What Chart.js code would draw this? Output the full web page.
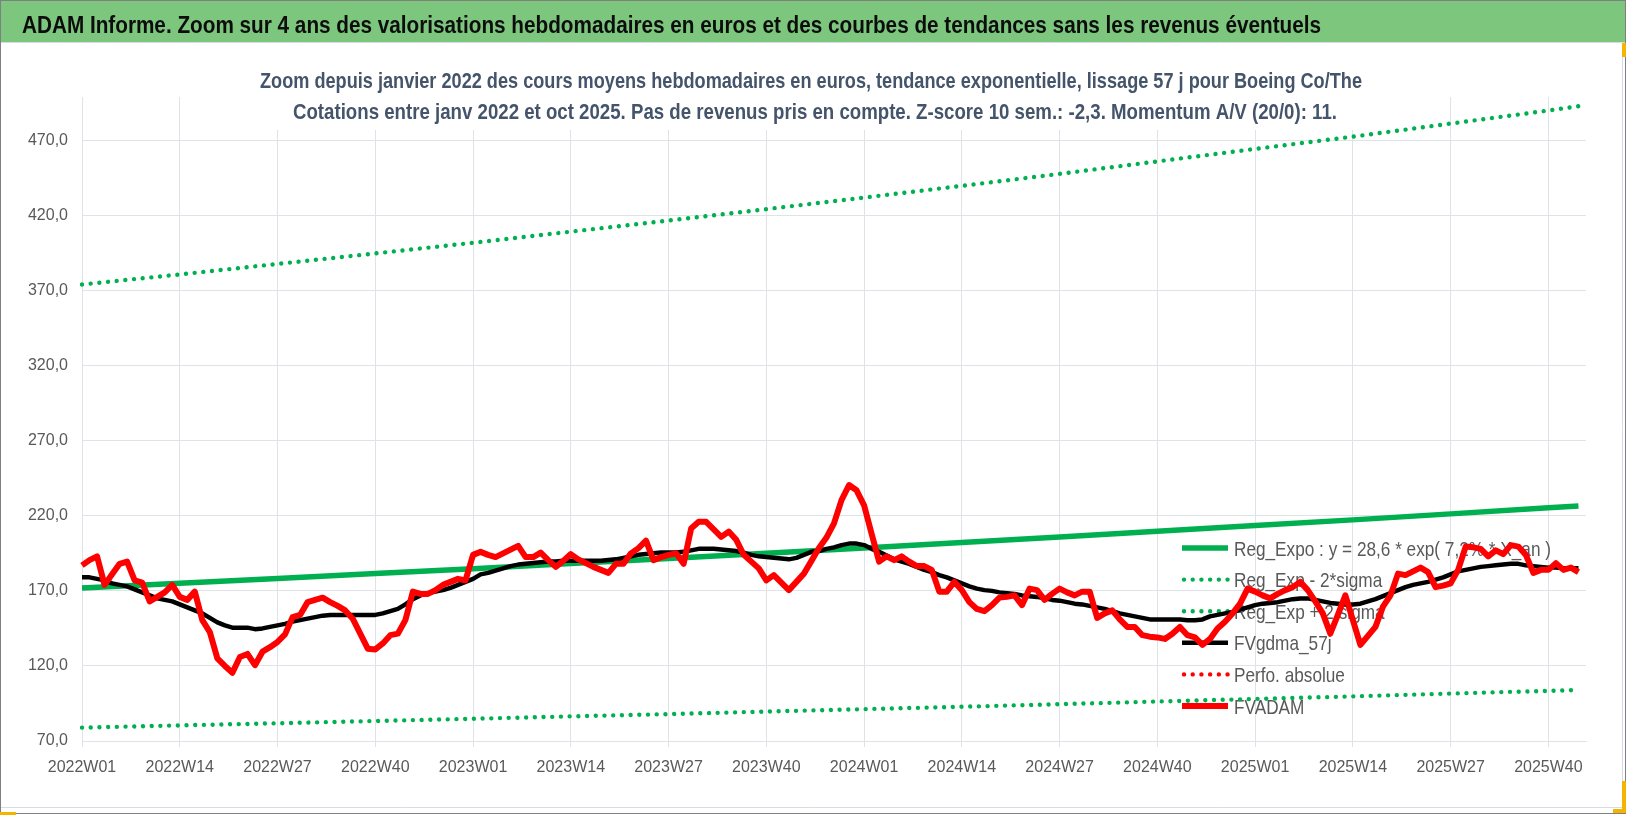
<!DOCTYPE html>
<html lang="fr">
<head>
<meta charset="utf-8">
<title>ADAM Informe - Boeing Co/The</title>
<script src="https://cdn.jsdelivr.net/npm/chart.js@4.4.1/dist/chart.umd.min.js"></script>
<style>
    html, body { margin: 0; padding: 0; background: #ffffff; overflow: hidden; }
    #adamChart { display: block; }
</style>
</head>
<body>
<canvas id="adamChart" width="1630" height="815"></canvas>
<script>
// Week categories 2022W01 .. 2025W45 (last one left empty, like the sheet)
const weekLabels = [];
for (let year = 2022; year <= 2025; year++) {
    const lastWeek = year === 2025 ? 45 : 52;
    for (let w = 1; w <= lastWeek; w++) {
        weekLabels.push(year + 'W' + String(w).padStart(2, '0'));
    }
}

const yTicks = [70, 120, 170, 220, 270, 320, 370, 420, 470];

// Trend lines, read on the picture at each labelled week (+ last week)
const trendWeeks = [0, 13, 26, 39, 52, 65, 78, 91, 104, 117, 130, 143, 156, 169, 182, 195, 199];
const regExpo = [172.0, 175.1, 178.3, 181.5, 184.8, 188.2, 191.6, 195.1, 198.6, 202.2, 205.9, 209.7, 213.5, 217.3, 221.3, 225.3, 226.6];
const regHigh = [374.1, 380.8, 387.8, 394.8, 401.9, 409.3, 416.7, 424.3, 432.0, 439.8, 447.8, 456.1, 464.4, 472.6, 481.3, 490.0, 492.9];
const regLow = [78.9, 80.4, 81.8, 83.3, 84.8, 86.4, 87.9, 89.6, 91.2, 92.8, 94.5, 96.3, 98.0, 99.7, 101.6, 103.4, 104.0];

// Weekly average quotes in euros (FVADAM)
const fvadam = [
    187, 190.5, 193, 174, 181, 188, 189.5, 177, 175.5, 163,
    166, 169, 174, 166, 164, 169.5, 150.5, 142.5, 125, 120,
    115.5, 126, 128, 120.5, 129.5, 132.5, 136, 141, 152.5, 154,
    162.5, 164, 165.5, 162.5, 160, 157, 151.5, 141.5, 131.5, 131,
    135, 140.5, 141.5, 150.5, 169.5, 168, 168, 170.5, 174, 176,
    178, 177, 194, 196, 194, 192.5, 195, 197.5, 200, 192.5,
    192.5, 195.5, 190.5, 186, 190, 194.5, 191, 188.5, 186, 184,
    182, 188, 188, 195, 198.5, 203.5, 190.5, 192.5, 194, 195,
    188, 211.5, 216, 216, 211, 206, 209.5, 204, 194, 189.5,
    185, 177, 180.5, 175.5, 170.5, 176, 181.5, 190, 198.5, 205.5,
    215, 230.5, 240.5, 237, 227, 208, 189.5, 193, 190.5, 193,
    189.5, 186.5, 186.5, 184, 169.5, 169.5, 176, 170.5, 162.5, 158,
    156.5, 160.5, 165.5, 166, 167, 160.5, 171.5, 170.5, 164, 168,
    171.5, 169, 167, 169.5, 169.5, 152, 155, 157, 151, 146,
    146, 140.5, 139.5, 139, 138, 141.5, 146, 140.5, 139, 134,
    138, 145, 149.5, 155, 161.5, 171.5, 169.5, 167, 165, 168,
    170.5, 172.5, 176, 170.5, 163, 155, 141.5, 154, 167, 150.5,
    134, 140, 146, 159.5, 167, 181.5, 180.5, 183, 185.5, 182.5,
    172.5, 173.5, 175, 184, 199.5, 199, 198, 193, 197, 194.5,
    200.5, 199.5, 194, 182, 184, 184, 188.5, 184, 185.5, 182.5
];

// 57 days smoothed average (FVgdma_57j)
const fvgdma = [
    179, 179, 178, 177, 175, 174, 173, 171, 169, 167,
    165, 164, 163, 161, 159, 157, 155, 152, 149, 147,
    145.5, 145.5, 145.5, 144.5, 145, 146, 147, 148, 149.5, 150.5,
    151.5, 152.5, 153.5, 154, 154, 154, 154, 154, 154, 154,
    155, 156.5, 158, 161, 164.5, 167, 168.5, 169.5, 170.5, 172,
    174, 176, 178, 181, 182, 183.5, 185, 186.5, 187.5, 188,
    188.5, 189, 189.5, 189.5, 190, 190, 190, 190, 190, 190,
    190.5, 191, 192, 193, 194, 194.5, 195, 195.5, 195.5, 195.5,
    196, 197, 198, 198, 198, 197.5, 197, 196.5, 195.5, 194,
    193, 192.5, 192, 191.5, 191, 192, 194, 196, 196.5, 198,
    199, 200.5, 201.5, 201.5, 200.5, 198, 196, 193.5, 191, 189.5,
    188, 186, 184, 182.5, 180.5, 179, 177, 175, 173, 171.5,
    170.5, 170, 169, 168.5, 168, 167, 166.5, 166, 165, 164,
    163.5, 162.5, 161.5, 161, 160, 159, 158, 156.5, 155, 154,
    153, 152, 151, 151, 151, 151, 151, 150.5, 150.5, 151,
    153, 154, 155, 156, 157.5, 159, 160.5, 161.5, 162, 162.5,
    163.5, 164.5, 165, 165, 164, 163, 162, 161.5, 161, 161,
    161.5, 163, 164.5, 166.5, 168.5, 170.5, 172.5, 174, 175, 176,
    177.5, 179, 181, 183, 184, 185, 186, 186.5, 187, 187.5,
    188, 188, 187, 186.5, 186, 185.5, 185.5, 185, 185, 185
];

const GREEN = '#00B050';
const RED = '#FF0000';
const DOTS = [0.01, 8.7];

const bannerText = 'ADAM Informe. Zoom sur 4 ans des valorisations hebdomadaires en euros et des courbes de tendances sans les revenus éventuels';
const titleLines = [
    'Zoom depuis janvier 2022 des cours moyens hebdomadaires en euros, tendance exponentielle, lissage 57 j pour Boeing Co/The',
    'Cotations entre janv 2022 et oct 2025. Pas de revenus pris en compte. Z-score 10 sem.: -2,3. Momentum A/V (20/0): 11.'
];

// Legend entries, in the sheet order
const legendItems = [
    { text: 'Reg_Expo : y = 28,6 * exp( 7,2% * X_an )', color: GREEN, width: 5.5, dotted: false },
    { text: 'Reg_Exp - 2*sigma', color: GREEN, width: 4.4, dotted: true },
    { text: 'Reg_Exp + 2 sigma', color: GREEN, width: 4.4, dotted: true },
    { text: 'FVgdma_57j', color: '#000000', width: 4.5, dotted: false },
    { text: 'Perfo. absolue', color: RED, width: 4.4, dotted: true },
    { text: 'FVADAM', color: RED, width: 6, dotted: false }
];

// Draw a text squeezed/stretched to a given width (Calibri-like look)
function drawFitText(ctx, text, x, baseline, width, font, color) {
    ctx.save();
    ctx.font = font;
    ctx.fillStyle = color;
    ctx.textAlign = 'left';
    ctx.textBaseline = 'alphabetic';
    const w = ctx.measureText(text).width;
    ctx.translate(x, baseline);
    ctx.scale(width / w, 1);
    ctx.fillText(text, 0, 0);
    ctx.restore();
}

// Background, green header band and frame
const framePlugin = {
    id: 'frame',
    beforeDraw(chart) {
        const ctx = chart.ctx;
        ctx.save();
        ctx.fillStyle = '#ffffff';
        ctx.fillRect(0, 0, chart.width, chart.height);
        ctx.fillStyle = '#7DC67E';
        ctx.fillRect(0, 0, 1626, 42);
        ctx.strokeStyle = '#d6dce4';
        ctx.lineWidth = 1;
        ctx.beginPath();
        ctx.moveTo(0, 42.5); ctx.lineTo(1626, 42.5);
        ctx.moveTo(0, 807.5); ctx.lineTo(1622.5, 807.5);
        ctx.moveTo(1622.5, 43); ctx.lineTo(1622.5, 808);
        ctx.stroke();
        ctx.strokeStyle = '#7f7f7f';
        ctx.strokeRect(0.5, 0.5, 1625, 813);
        // selection handles of the sheet
        ctx.fillStyle = '#F4B400';
        ctx.fillRect(1622, 43, 4, 14);
        ctx.fillRect(1622, 781, 4, 32);
        ctx.fillRect(1613, 809, 13, 4);
        ctx.fillRect(0, 812, 16, 3);
        ctx.restore();
        drawFitText(ctx, bannerText, 22, 33, 1299, 'bold 23px "Liberation Sans", Arial, sans-serif', '#0d0d0d');
    },
    afterDraw(chart) {
        const ctx = chart.ctx;
        // title box hides the grid behind it
        ctx.save();
        ctx.fillStyle = '#ffffff';
        ctx.fillRect(240, 58, 1145, 72);
        ctx.restore();
        drawFitText(ctx, titleLines[0], 260, 87.5, 1102, 'bold 22px "Liberation Sans", Arial, sans-serif', '#44546A');
        drawFitText(ctx, titleLines[1], 293, 118.5, 1044, 'bold 22px "Liberation Sans", Arial, sans-serif', '#44546A');
    }
};

// Legend floating inside the plot, under the series
const floatingLegend = {
    id: 'floatingLegend',
    beforeDatasetsDraw(chart) {
        const ctx = chart.ctx;
        const font = '21px "Liberation Sans", Arial, sans-serif';
        ctx.save();
        ctx.font = font;
        const squeeze = 317 / ctx.measureText(legendItems[0].text).width;
        legendItems.forEach(function(item, k) {
            const y = 548 + k * 31.6;
            ctx.beginPath();
            ctx.strokeStyle = item.color;
            ctx.lineWidth = item.width;
            if (item.dotted) {
                ctx.lineCap = 'round';
                ctx.setLineDash(DOTS);
                ctx.moveTo(1184, y);
                ctx.lineTo(1228, y);
            } else {
                ctx.lineCap = 'butt';
                ctx.setLineDash([]);
                ctx.moveTo(1182, y);
                ctx.lineTo(1228, y);
            }
            ctx.stroke();
            ctx.setLineDash([]);
            const w = ctx.measureText(item.text).width;
            drawFitText(ctx, item.text, 1234, y + 7.5, w * squeeze, font, '#595959');
        });
        ctx.restore();
    }
};

function trendPoints(values) {
    return trendWeeks.map(function(w, k) {
        return { x: weekLabels[w], y: values[k] };
    });
}

function createAdamChart() {
    const ctx = document.getElementById('adamChart').getContext('2d');

    const chartData = {
        labels: weekLabels,
        datasets: [
            { label: 'Reg_Expo', data: trendPoints(regExpo), borderColor: GREEN, borderWidth: 5.5, order: 6 },
            { label: 'Reg_Exp - 2*sigma', data: trendPoints(regLow), borderColor: GREEN, borderWidth: 4.4,
              borderDash: DOTS, borderCapStyle: 'round', order: 5 },
            { label: 'Reg_Exp + 2 sigma', data: trendPoints(regHigh), borderColor: GREEN, borderWidth: 4.4,
              borderDash: DOTS, borderCapStyle: 'round', order: 4 },
            { label: 'FVgdma_57j', data: fvgdma, borderColor: '#000000', borderWidth: 4.5,
              borderJoinStyle: 'round', order: 3 },
            { label: 'Perfo. absolue', data: [], borderColor: RED, borderWidth: 4.4,
              borderDash: DOTS, borderCapStyle: 'round', order: 2 },
            { label: 'FVADAM', data: fvadam, borderColor: RED, borderWidth: 6,
              borderJoinStyle: 'round', order: 1 }
        ]
    };

    const config = {
        type: 'line',
        data: chartData,
        options: {
            responsive: false,
            animation: false,
            devicePixelRatio: 1,
            layout: { padding: { left: 0, top: 97, right: 44, bottom: 14 } },
            elements: {
                point: { radius: 0, hoverRadius: 0 },
                line: { tension: 0, fill: false }
            },
            plugins: {
                legend: { display: false },
                title: { display: false },
                tooltip: { enabled: false }
            },
            scales: {
                x: {
                    type: 'category',
                    offset: false,
                    grid: { color: '#dfe3e8', lineWidth: 1, drawTicks: true, tickLength: 6, tickColor: '#dfe3e8' },
                    border: { color: '#dfe3e8' },
                    ticks: {
                        autoSkip: false,
                        maxRotation: 0,
                        padding: 11,
                        color: '#595959',
                        font: { family: '"Liberation Sans", Arial, sans-serif', size: 16 },
                        callback: function(value) {
                            return weekLabels[value];
                        }
                    },
                    afterBuildTicks: function(scale) {
                        scale.ticks = scale.ticks.filter(function(t) { return t.value % 13 === 0; });
                    },
                    afterFit: function(scale) {
                        scale.height = 60;
                    }
                },
                y: {
                    min: 70,
                    max: 499,
                    grid: { color: '#dfe3e8', lineWidth: 1, drawTicks: false },
                    border: { display: false },
                    ticks: {
                        padding: 14,
                        color: '#595959',
                        font: { family: '"Liberation Sans", Arial, sans-serif', size: 16 },
                        callback: function(value) {
                            return value.toFixed(1).replace('.', ',');
                        }
                    },
                    afterBuildTicks: function(scale) {
                        scale.ticks = yTicks.map(function(v) { return { value: v }; });
                    },
                    afterFit: function(scale) {
                        scale.width = 82;
                    }
                }
            }
        },
        plugins: [framePlugin, floatingLegend]
    };

    new Chart(ctx, config);
}

window.onload = function() {
    createAdamChart();
};
</script>
</body>
</html>
